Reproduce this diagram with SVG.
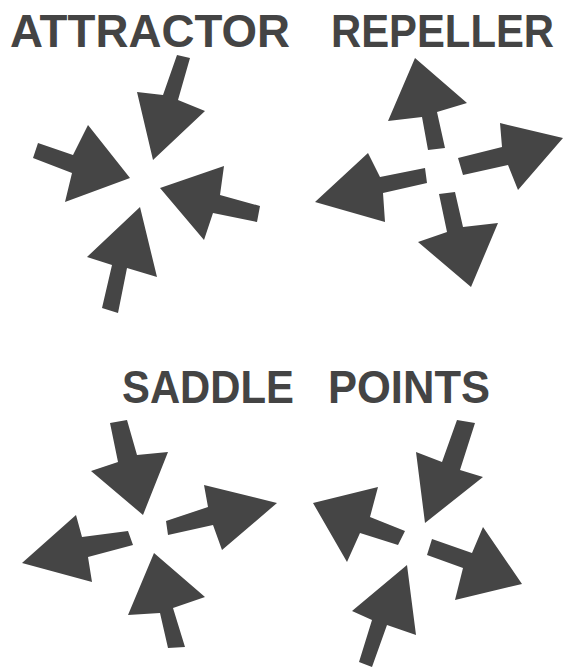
<svg xmlns="http://www.w3.org/2000/svg" width="565" height="669" viewBox="0 0 565 669">
<style>
.t{font-family:"Liberation Sans",Arial,sans-serif;font-weight:bold;font-size:47px;fill:#444444}
.a{fill:#454545}
</style>
<rect width="565" height="669" fill="#ffffff"/>
<g id="labels">
<text class="t" x="10" y="47" textLength="280" lengthAdjust="spacingAndGlyphs">ATTRACTOR</text>
<text class="t" x="554" y="47" text-anchor="end" textLength="223" lengthAdjust="spacingAndGlyphs">REPELLER</text>
<text class="t" x="122" y="403" textLength="172" lengthAdjust="spacingAndGlyphs">SADDLE</text>
<text class="t" x="328" y="403" textLength="162" lengthAdjust="spacingAndGlyphs">POINTS</text>
</g>
<g id="attractor">
<polygon class="a" points="177,55 190,58 178,100 205,111 153,160 137,92 163,95"/>
<polygon class="a" points="38,143 73,155 88,125 130,178 65,202 72,173 33,158"/>
<polygon class="a" points="160,188 224,166 220,195 260,206 257,222 213,213 204,240"/>
<polygon class="a" points="140,207 157,277 127,268 118,313 102,308 112,265 87,257"/>
</g>
<g id="repeller">
<polygon class="a" points="415,58 467,103 437,112 445,148 428,150 422,117 388,121"/>
<polygon class="a" points="458,158 502,147 500,123 563,138 518,190 508,165 463,175"/>
<polygon class="a" points="425,168 380,177 368,153 315,202 385,222 383,193 427,183"/>
<polygon class="a" points="439,194 455,192 463,227 498,223 471,287 418,242 447,232"/>
</g>
<g id="saddle-left">
<polygon class="a" points="110,423 127,420 137,455 168,452 143,515 91,471 118,462"/>
<polygon class="a" points="166,521 208,507 204,485 277,503 222,550 213,525 168,535"/>
<polygon class="a" points="128,531 82,537 76,515 22,563 92,582 88,557 133,545"/>
<polygon class="a" points="154,553 205,597 173,608 185,647 168,648 160,613 128,615"/>
</g>
<g id="saddle-right">
<polygon class="a" points="457,420 475,423 460,470 483,477 425,523 416,452 442,462"/>
<polygon class="a" points="313,503 378,487 370,517 405,531 398,545 360,533 347,562"/>
<polygon class="a" points="432,539 472,553 483,527 522,584 455,600 463,568 427,555"/>
<polygon class="a" points="407,565 416,635 387,625 372,667 359,662 372,620 352,611"/>
</g>
<g id="connectors"></g>
</svg>
